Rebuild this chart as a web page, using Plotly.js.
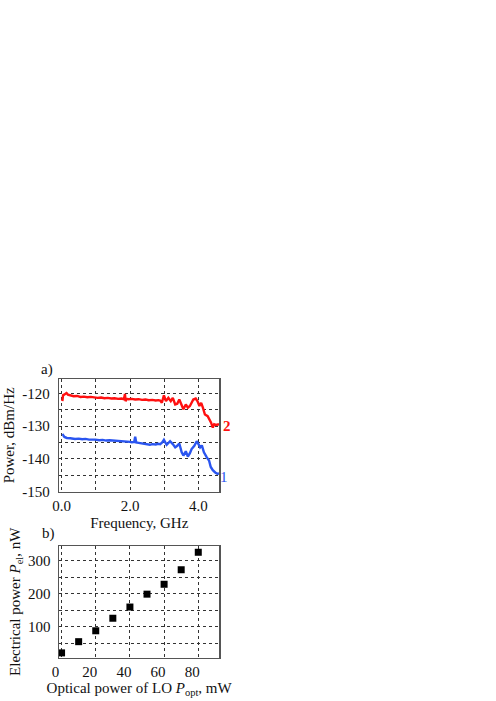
<!DOCTYPE html>
<html>
<head>
<meta charset="utf-8">
<script src="https://cdn.plot.ly/plotly-3.0.1.min.js"></script>
<style>html,body{margin:0;padding:0;background:#fff;}#chart{width:496px;height:701px;}</style>
</head>
<body>
<div id="chart"></div>
<script>
// Panel a: spectra (frequency in GHz, power in dBm/Hz)
const freqRed = [0.02,0.04,0.07,0.10,0.14,0.18,0.25,0.35,0.45,0.55,0.65,0.75,0.85,0.95,1.05,1.15,1.25,1.35,1.45,1.55,1.65,1.75,1.82,1.85,1.87,1.90,1.95,2.05,2.15,2.25,2.35,2.45,2.55,2.65,2.75,2.83,2.88,2.93,2.99,3.05,3.12,3.19,3.25,3.32,3.38,3.44,3.51,3.56,3.63,3.69,3.75,3.80,3.85,3.92,3.97,4.03,4.08,4.13,4.19,4.27,4.32,4.37,4.42,4.46,4.51,4.60];
const powerRed = [-122.3,-120.5,-120.3,-120.0,-119.8,-120.3,-120.6,-120.8,-120.7,-121.0,-120.9,-121.1,-121.0,-121.2,-121.3,-121.2,-121.4,-121.3,-121.5,-121.4,-121.6,-121.5,-121.7,-120.1,-122.3,-121.6,-121.7,-121.6,-121.8,-121.7,-121.9,-121.8,-122.0,-121.9,-122.1,-122.0,-122.1,-122.8,-120.5,-122.3,-121.3,-122.3,-121.3,-123.3,-123.1,-121.8,-123.8,-124.8,-123.3,-124.3,-123.8,-122.8,-121.8,-121.5,-122.3,-123.8,-122.8,-124.3,-126.4,-126.9,-127.9,-128.9,-130.4,-129.4,-129.6,-129.4];
const freqBlue = [0.02,0.04,0.08,0.15,0.25,0.39,0.5,0.6,0.7,0.8,0.98,1.1,1.2,1.3,1.4,1.56,1.7,1.8,1.9,2.0,2.05,2.12,2.15,2.18,2.25,2.35,2.44,2.5,2.58,2.65,2.75,2.82,2.88,2.94,2.99,3.07,3.12,3.17,3.25,3.32,3.38,3.44,3.51,3.56,3.63,3.69,3.75,3.80,3.88,3.95,4.00,4.05,4.10,4.16,4.24,4.31,4.36,4.42,4.49,4.55,4.60];
const powerBlue = [-132.9,-132.7,-133.3,-133.6,-133.7,-133.9,-133.8,-134.0,-133.9,-134.1,-134.1,-134.3,-134.2,-134.4,-134.3,-134.4,-134.6,-134.5,-134.7,-134.8,-134.9,-134.8,-133.2,-135.0,-135.1,-135.3,-135.5,-135.4,-135.7,-135.5,-135.6,-135.4,-135.5,-135.0,-134.2,-135.7,-135.0,-134.6,-135.5,-136.5,-136.0,-135.3,-138.0,-139.0,-137.7,-139.3,-138.3,-137.0,-136.0,-134.6,-135.5,-136.5,-135.9,-138.0,-139.5,-140.5,-142.5,-143.5,-144.2,-144.6,-144.5];
const curveLabels = ["2", "1"];
const powerTicks = [-120, -130, -140, -150];
const powerTickText = ["-120", "-130", "-140", "-150"];

// Panel b: electrical power vs optical LO power
const optPower = [0, 10, 20, 30, 40, 50, 60, 70, 80];
const elPower = [21, 55, 88, 126, 160, 199, 229, 273, 326];

const FONT = "Liberation Serif, Times New Roman, serif";
const W = 496, H = 701;
const px = v => v / W;
const py = v => 1 - v / H;

const gridStyle = {gridcolor: "#333", griddash: "dot", gridwidth: 1};
const frame = {showline: true, mirror: true, linecolor: "#555", linewidth: 1.5, zeroline: false, ticks: ""};

const traces = [
  {x: freqRed, y: powerRed, type: "scatter", mode: "lines", line: {color: "#ff1010", width: 2.4}, xaxis: "x", yaxis: "y", hoverinfo: "skip"},
  {x: freqBlue, y: powerBlue, type: "scatter", mode: "lines", line: {color: "#2a55f0", width: 2.4}, xaxis: "x", yaxis: "y", hoverinfo: "skip"},
  {x: optPower, y: elPower, type: "scatter", mode: "markers", marker: {symbol: "square", size: 7, color: "#000"}, xaxis: "x2", yaxis: "y2", cliponaxis: false, hoverinfo: "skip"}
];

const layout = {
  width: W, height: H,
  margin: {l: 0, r: 0, t: 0, b: 0},
  paper_bgcolor: "#fff", plot_bgcolor: "#fff",
  showlegend: false,
  font: {family: FONT, size: 15, color: "#111"},
  xaxis: Object.assign({}, frame, gridStyle, {
    domain: [px(59.3), px(219.3)], anchor: "y",
    range: [-0.07, 4.61], tickvals: [0, 2, 4], tickformat: ".1f",
    showgrid: true,
    minor: {tickvals: [1, 3], showgrid: true, gridcolor: "#333", griddash: "dot", gridwidth: 1, ticks: ""},
    tickfont: {size: 15},
    title: {text: "Frequency, GHz", font: {size: 15}, standoff: 4}
  }),
  yaxis: Object.assign({}, frame, gridStyle, {
    domain: [py(491.7), py(379)], anchor: "x",
    range: [-150.1, -115.5], tickvals: powerTicks, ticktext: powerTickText,
    showgrid: true,
    minor: {tickvals: [-125, -135, -145], showgrid: true, gridcolor: "#333", griddash: "dot", gridwidth: 1, ticks: ""},
    tickfont: {size: 15}, ticklabelstandoff: 5,
    title: {text: "Power, dBm/Hz", font: {size: 15}, standoff: 4}
  }),
  xaxis2: Object.assign({}, frame, gridStyle, {
    domain: [px(59), px(219.3)], anchor: "y2",
    range: [-1.5, 92.3], tickvals: [0, 20, 40, 60, 80],
    showgrid: true, ticklabelshift: -6,
    tickfont: {size: 15},
    title: {text: "Optical power of LO <i>P</i><sub>opt</sub>, mW", font: {size: 15}, standoff: 2}
  }),
  yaxis2: Object.assign({}, frame, gridStyle, {
    domain: [py(657.5), py(546)], anchor: "x2",
    range: [7, 345], tickvals: [100, 200, 300],
    showgrid: true,
    minor: {tickvals: [50, 150, 250], showgrid: true, gridcolor: "#333", griddash: "dot", gridwidth: 1, ticks: ""},
    tickfont: {size: 15}, ticklabelstandoff: 4,
    title: {text: "Electrical power <i>P</i><sub>el</sub>, nW", font: {size: 15}, standoff: 4}
  }),
  annotations: [
    {text: "a)", xref: "paper", yref: "paper", x: px(46.7), y: py(370), showarrow: false, font: {size: 15}, xanchor: "center", yanchor: "middle"},
    {text: "b)", xref: "paper", yref: "paper", x: px(48.3), y: py(533), showarrow: false, font: {size: 15}, xanchor: "center", yanchor: "middle"},
    {text: "<b>" + curveLabels[0] + "</b>", xref: "x", yref: "y", x: 4.61, y: -130, xshift: 8, showarrow: false, font: {size: 15, color: "#ff1010"}, xanchor: "center", yanchor: "middle"},
    {text: curveLabels[1], xref: "x", yref: "y", x: 4.61, y: -145.7, xshift: 5, showarrow: false, font: {size: 15, color: "#2a55f0"}, xanchor: "center", yanchor: "middle"}
  ]
};

Plotly.newPlot("chart", traces, layout, {displayModeBar: false, staticPlot: true});
</script>
</body>
</html>
